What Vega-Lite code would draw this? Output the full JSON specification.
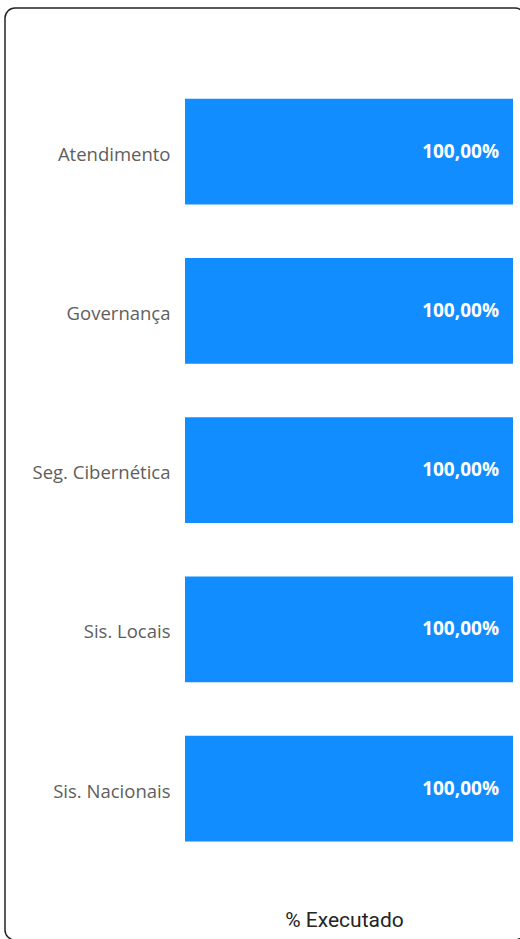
{
  "$schema": "https://vega.github.io/schema/vega-lite/v6.json",
  "width": 520,
  "height": 932,
  "autosize": {"type": "none"},
  "padding": {"left": 5, "top": 8, "right": 0, "bottom": 0},
  "background": "white",
  "config": {
    "view": {"stroke": "#252423", "strokeWidth": 1.5, "cornerRadius": 10},
    "locale": {"number": {"decimal": ",", "thousands": ".", "grouping": [3], "currency": ["R$", ""]}}
  },
  "data": {
    "values": [
      {"categoria": "Atendimento", "executado": 1.0},
      {"categoria": "Governança", "executado": 1.0},
      {"categoria": "Seg. Cibernética", "executado": 1.0},
      {"categoria": "Sis. Locais", "executado": 1.0},
      {"categoria": "Sis. Nacionais", "executado": 1.0}
    ]
  },
  "encoding": {
    "y": {
      "field": "categoria",
      "type": "nominal",
      "sort": null,
      "scale": {"paddingInner": 0.336, "paddingOuter": 0.594, "align": 0.48},
      "axis": {
        "title": null,
        "offset": -180,
        "domain": false,
        "ticks": false,
        "grid": false,
        "labelPadding": 15,
        "labelOffset": 3,
        "labelFontSize": 18.5,
        "labelColor": "#605E5C",
        "labelFont": "Open Sans",
        "labelFontWeight": "normal"
      }
    },
    "x": {
      "field": "executado",
      "type": "quantitative",
      "scale": {"domain": [-0.54878, 1.03659], "nice": false},
      "axis": {
        "title": "% Executado",
        "grid": false,
        "labels": false,
        "ticks": false,
        "domain": false,
        "titleX": 339,
        "titleY": -14,
        "titleAlign": "center",
        "titleBaseline": "alphabetic",
        "titleFont": "Roboto",
        "titleFontSize": 21,
        "titleFontWeight": "normal",
        "titleColor": "#252423"
      }
    }
  },
  "layer": [
    {"mark": {"type": "bar", "color": "#118DFF"}},
    {
      "mark": {
        "type": "text",
        "align": "right",
        "baseline": "middle",
        "dx": -14,
        "color": "white",
        "font": "Open Sans",
        "fontWeight": "bold",
        "fontSize": 19
      },
      "encoding": {
        "text": {"field": "executado", "type": "quantitative", "format": ".2%"}
      }
    }
  ]
}
